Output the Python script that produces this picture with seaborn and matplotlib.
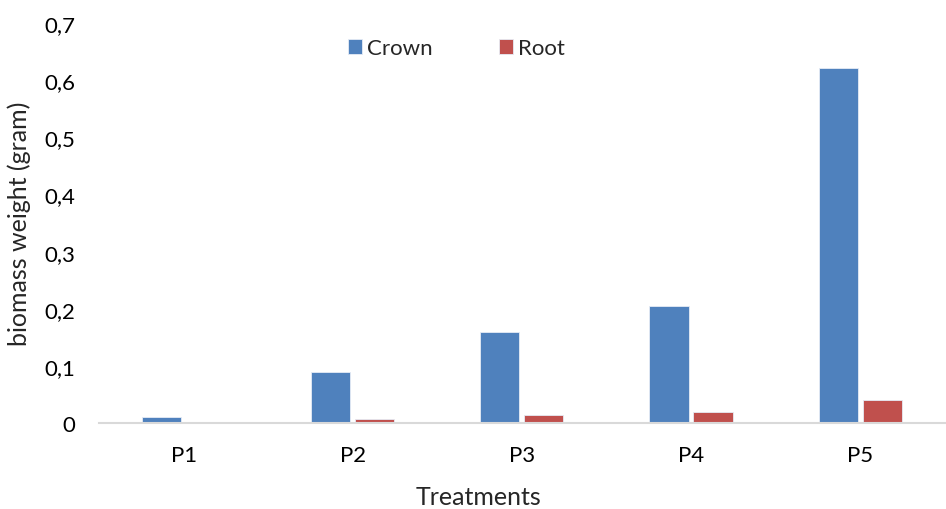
import numpy as np
import pandas as pd
import matplotlib
matplotlib.use("Agg")
import matplotlib.pyplot as plt
import seaborn as sns
from matplotlib.ticker import FuncFormatter

# data
treatments = ["P1", "P2", "P3", "P4", "P5"]
crown = [0.011, 0.090, 0.159, 0.204, 0.622]
root = [0.001, 0.0075, 0.0134, 0.019, 0.041]

df = pd.DataFrame({
    "Treatment": treatments * 2,
    "Part": ["Crown"] * len(treatments) + ["Root"] * len(treatments),
    "Weight": crown + root,
})

sns.set_style("white")
plt.rcParams["font.family"] = ["Lato", "DejaVu Sans"]

fig = plt.figure(figsize=(9.46, 5.10), dpi=100)
ax = fig.add_axes([0.1047, 0.1686, 0.894, 0.784])

sns.barplot(data=df, x="Treatment", y="Weight", hue="Part",
            palette={"Crown": "#4F81BD", "Root": "#C0504D"}, saturation=1,
            width=0.52, gap=0.11, errorbar=None, ax=ax,
            edgecolor="#e6ecf5", linewidth=0.6)

ax.set_ylim(0, 0.7)
ax.set_xlim(-0.5, 4.5)
ax.set_yticks(np.arange(0, 0.71, 0.1))
ax.yaxis.set_major_formatter(FuncFormatter(
    lambda v, p: "0" if abs(v) < 1e-9 else f"{v:.1f}".replace(".", ",")))
ax.tick_params(axis="both", length=0, labelsize=16, colors="#000000")
ax.tick_params(axis="y", pad=17)
ax.tick_params(axis="x", pad=16)

for s in ["top", "right", "left"]:
    ax.spines[s].set_visible(False)
ax.spines["bottom"].set_color("#d9d9d9")
ax.spines["bottom"].set_linewidth(1.5)

ax.set_xlabel("Treatments", fontsize=18)
ax.set_ylabel("biomass weight (gram)", fontsize=18)
ax.xaxis.set_label_coords(0.449, -0.155)
ax.yaxis.set_label_coords(-0.080, 0.5)

leg = ax.legend(loc="upper center", bbox_to_anchor=(0.423, 1.012), ncol=2,
                frameon=False, fontsize=16, handlelength=0.6, handleheight=0.6,
                handletextpad=0.25, columnspacing=3.0)

fig.savefig("out.png", dpi=100)
